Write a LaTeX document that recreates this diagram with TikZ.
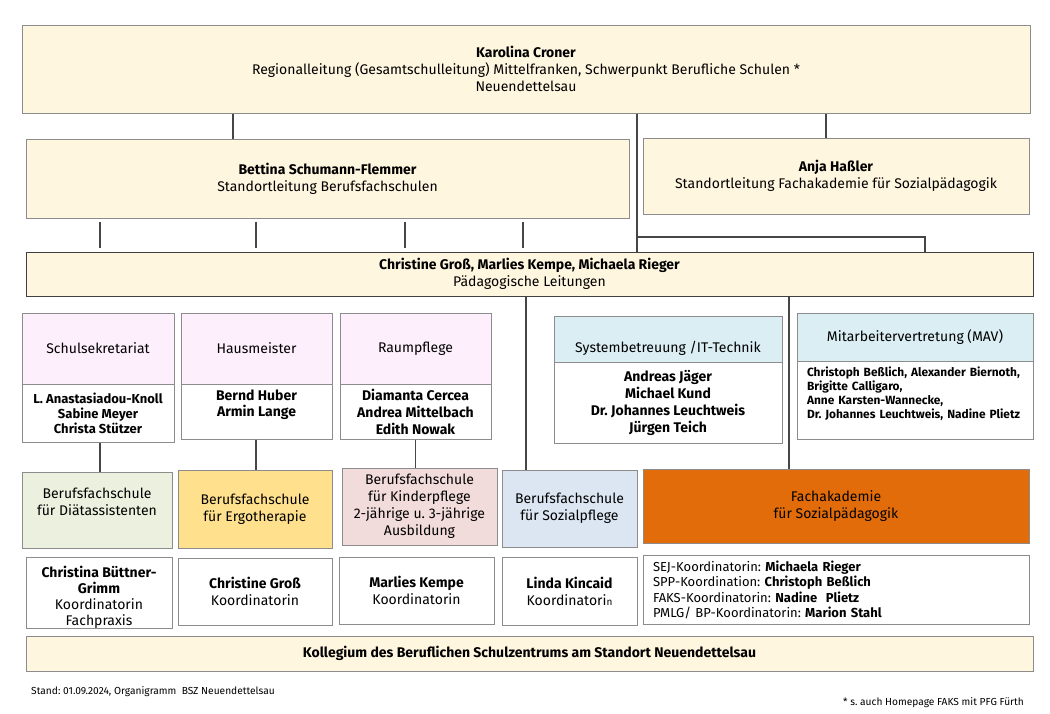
\documentclass[tikz,border=0pt]{standalone}
\usepackage{fontspec}
\setmainfont{Fira Sans}
\frenchspacing
\definecolor{cream}{HTML}{FFF6E0}
\definecolor{pinkhd}{HTML}{FDF0FC}
\definecolor{bluehd}{HTML}{DAEEF3}
\definecolor{greenbx}{HTML}{EBF1DE}
\definecolor{yellowbx}{HTML}{FFE08C}
\definecolor{rosebx}{HTML}{F2DCDB}
\definecolor{bluebx}{HTML}{DCE6F2}
\definecolor{orangebx}{HTML}{E36C0A}
\definecolor{boxgray}{HTML}{8C8C8C}
\definecolor{linegray}{HTML}{464646}
\newcommand\fmain{\fontsize{14}{17}\selectfont}
\newcommand\fnames{\fontsize{14}{17}\selectfont\bfseries}
\newcommand\fmav{\fontsize{11.9}{14}\selectfont\bfseries}
\newcommand\ffoot{\fontsize{10.2}{12}\selectfont}
\begin{document}
\begin{tikzpicture}[x=1pt, y=-1pt,
    box/.style={draw=boxgray, line width=1pt, inner sep=0pt,
                align=center, font=\fmain},
    link/.style={draw=linegray, line width=1.5pt}]
  \useasboundingbox (0,0) rectangle (1050,713);
  % Leitung
  \node[box, fill=cream, minimum width=1008pt, minimum height=88pt] (rl) at (526,69)
    {\textbf{Karolina Croner}\\Regionalleitung (Gesamtschulleitung) Mittelfranken, Schwerpunkt Berufliche Schulen *\\Neuendettelsau};
  \node[box, fill=cream, minimum width=603pt, minimum height=79pt] (slbfs) at (327.5,178.5)
    {\textbf{Bettina Schumann-Flemmer}\\Standortleitung Berufsfachschulen};
  \node[box, fill=cream, minimum width=386pt, minimum height=76pt] (slfak) at (836,176)
    {\textbf{Anja Haßler}\\Standortleitung Fachakademie für Sozialpädagogik};
  \node[box, fill=cream, draw=black!75, minimum width=1007pt, minimum height=44pt] (pl) at (529.5,274)
    {\textbf{Christine Groß, Marlies Kempe, Michaela Rieger}\\Pädagogische Leitungen};

  % Verwaltung und Dienste
  \node[box, fill=pinkhd, minimum width=152pt, minimum height=71pt] (sekh) at (98,348.5) {Schulsekretariat};
  \node[box, fill=white, minimum width=152pt, minimum height=58pt,
        font=\fontsize{13}{15}\selectfont\bfseries] (sekb) at (98,413)
    {L. Anastasiadou-Knoll\\Sabine Meyer\\Christa Stützer};
  \node[box, fill=pinkhd, minimum width=151pt, minimum height=71pt] (haush) at (256.5,348.5) {Hausmeister};
  \node[box, fill=white, minimum width=151pt, minimum height=55pt,
        font=\fontsize{14}{16}\selectfont\bfseries] (hausb) at (256.5,411.5)
    {Bernd Huber\\Armin Lange\\~};
  \node[box, fill=pinkhd, minimum width=151pt, minimum height=71pt] (raumh) at (415.5,348.5) {Raumpflege};
  \node[box, fill=white, minimum width=151pt, minimum height=55pt, font=\fnames] (raumb) at (415.5,411.5)
    {Diamanta Cercea\\Andrea Mittelbach\\Edith Nowak};
  \node[box, fill=bluehd, minimum width=228pt, minimum height=46pt] (sysh) at (668,339)
    {\raisebox{-13pt}[0pt][0pt]{Systembetreuung /IT-Technik}};
  \node[box, fill=white, minimum width=228pt, minimum height=81pt, font=\fnames] (sysb) at (668,402.5)
    {Andreas Jäger\\Michael Kund\\Dr. Johannes Leuchtweis\\Jürgen Teich};
  \node[box, fill=bluehd, minimum width=236pt, minimum height=48pt] (mavh) at (915,337)
    {Mitarbeitervertretung (MAV)};
  \node[box, fill=white, minimum width=236pt, minimum height=78pt, text width=216pt,
        align=left, font=\fmav] (mavb) at (915,400)
    {Christoph Beßlich, Alexander Biernoth,\\Brigitte Calligaro,\\Anne Karsten-Wannecke,\\Dr. Johannes Leuchtweis, Nadine Plietz\\~};

  % Schulen
  \node[box, fill=greenbx, minimum width=150pt, minimum height=76pt] (diat) at (97,510)
    {Berufsfachschule\\für Diätassistenten\\~};
  \node[box, fill=yellowbx, minimum width=154pt, minimum height=78pt] (ergo) at (255,509)
    {Berufsfachschule\\für Ergotherapie};
  \node[box, fill=rosebx, minimum width=155pt, minimum height=77pt] (kind) at (419.5,506.5)
    {Berufsfachschule\\für Kinderpflege\\2-jährige u. 3-jährige\\Ausbildung};
  \node[box, fill=bluebx, minimum width=135pt, minimum height=77pt] (sozp) at (569.5,508.5)
    {Berufsfachschule\\für Sozialpflege};
  \node[box, fill=orangebx, minimum width=386pt, minimum height=74pt] (fak) at (836,506)
    {Fachakademie\\für Sozialpädagogik};

  % Koordination
  \node[box, fill=white, minimum width=146pt, minimum height=69pt,
        font=\fontsize{14}{16}\selectfont] (buet) at (99,592.5)
    {\rule{0pt}{20pt}\textbf{Christina Büttner-}\\\textbf{Grimm}\\Koordinatorin\\Fachpraxis};
  \node[box, fill=white, minimum width=154pt, minimum height=67pt] (gross) at (255,591.5)
    {\textbf{Christine Groß}\\Koordinatorin};
  \node[box, fill=white, minimum width=155pt, minimum height=67pt] (kempe) at (416.5,590.5)
    {\textbf{Marlies Kempe}\\Koordinatorin};
  \node[box, fill=white, minimum width=135pt, minimum height=68pt] (kinc) at (569.5,591)
    {\textbf{Linda Kincaid}\\Koordinatori{\fontsize{10}{12}\selectfont n}};
  \node[box, fill=white, minimum width=386pt, minimum height=69pt, text width=366pt,
        align=left, font=\fontsize{13}{15.3}\selectfont] (koord) at (836,590)
    {SEJ-Koordinatorin: \textbf{Michaela Rieger}\\SPP-Koordination: \textbf{Christoph Beßlich}\\FAKS-Koordinatorin: \textbf{Nadine\ \ Plietz}\\PMLG/ BP-Koordinatorin: \textbf{Marion Stahl}};
  \node[box, fill=cream, minimum width=1007pt, minimum height=35pt] (koll) at (529.5,653.5)
    {\textbf{Kollegium des Beruflichen Schulzentrums am Standort Neuendettelsau}};

  \node[anchor=west, inner sep=0pt, font=\ffoot] (stand) at (31,692)
    {Stand: 01.09.2024, Organigramm\ \ BSZ Neuendettelsau};
  \node[anchor=east, inner sep=0pt, font=\ffoot] (hint) at (1024,703)
    {* s. auch Homepage FAKS mit PFG Fürth};

  % Verbindungen
  \coordinate (xa) at (233,0);
  \coordinate (xb) at (826,0);
  \coordinate (xc) at (637,0);
  \coordinate (fork) at (637,237);
  \coordinate (xd) at (925,0);
  \coordinate (xe) at (789,0);
  \coordinate (xf) at (526,0);
  \draw[link] (rl.south -| xa) -- (slbfs.north -| xa);
  \draw[link] (rl.south -| xb) -- (slfak.north -| xb);
  \draw[link] (rl.south -| xc) -- (pl.north -| xc);
  \draw[link] (fork) -| (pl.north -| xd);
  \foreach \x [count=\i] in {100,256,405,523}{
    \coordinate (st\i) at (\x,0);
    \draw[link, shorten <=3pt, shorten >=4pt] (slbfs.south -| st\i) -- (pl.north -| st\i);
  }
  \draw[link] (pl.south -| xe) -- (fak.north -| xe);
  \draw[link] (pl.south -| xf) -- (sozp.north -| xf);
  \draw[link] (sekb.south -| st1) -- (diat.north -| st1);
  \draw[link] (hausb.south -| st2) -- (ergo.north -| st2);
  \draw[link] (raumb.south) -- (raumb.south |- kind.north);
\end{tikzpicture}
\end{document}
